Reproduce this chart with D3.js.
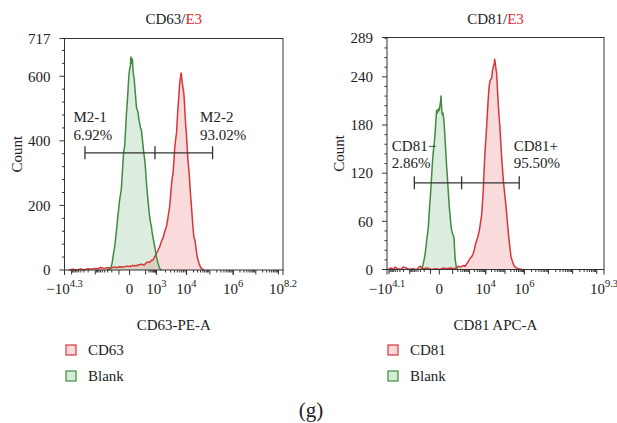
<!DOCTYPE html>
<html>
<head>
<meta charset="utf-8">
<script src="https://cdn.jsdelivr.net/npm/d3@7"></script>
<style>
  html, body { margin: 0; padding: 0; background: #fff; }
  svg { display: block; }
  text { font-family: "Liberation Serif", "DejaVu Serif", serif; fill: #222; }
</style>
</head>
<body>
<svg id="chart" width="617" height="423"></svg>
<script>
// ---------------- DATA (x in display channels 0..1024, y = count) ----------------
const cd63Blank = [[200,0],[208,1],[214,3],[219,10],[224,25],[229,48],[235,72],[240,100],[245,132],[250,166],[254,190],[258,215],[262,232],[266,249],[270,290],[274,335],[278,370],[282,383],[286,430],[290,480],[294,520],[297,549],[300,585],[303,610],[306,625],[309,632],[311,660],[313,640],[315,655],[318,653],[321,620],[324,600],[327,590],[329,570],[333,540],[337,505],[340,497],[344,490],[348,470],[352,455],[356,440],[360,435],[364,410],[368,385],[372,360],[376,342],[380,310],[384,270],[388,240],[391,218],[395,190],[399,165],[403,148],[407,135],[411,115],[415,100],[419,85],[423,72],[427,55],[431,40],[435,30],[438,21],[442,12],[446,6],[450,2],[455,0]];
const cd63Pos = [[20,0],[40,2],[60,0],[75,3],[90,0],[110,4],[125,2],[140,5],[155,3],[170,8],[185,5],[200,7],[215,6],[230,9],[245,8],[260,10],[275,9],[290,12],[305,11],[320,14],[335,13],[350,16],[362,18],[372,15],[382,22],[392,25],[400,24],[408,30],[415,31],[420,38],[426,45],[431,52],[436,58],[441,65],[446,72],[450,80],[454,88],[458,95],[462,99],[466,110],[470,120],[474,128],[478,135],[482,150],[486,168],[490,185],[493,197],[497,228],[501,262],[505,285],[509,301],[513,340],[517,380],[521,405],[525,425],[528,460],[531,495],[535,529],[538,560],[541,585],[544,598],[546,610],[548,606],[550,590],[553,575],[556,560],[559,549],[562,520],[565,480],[568,450],[571,425],[574,390],[577,355],[580,330],[584,301],[587,270],[591,230],[595,197],[599,160],[603,125],[607,100],[611,93],[615,75],[619,55],[622,40],[626,31],[630,22],[634,14],[638,8],[642,5],[648,2],[655,0]];
const cd81Blank = [[160,0],[165,2],[170,6],[175,12],[180,20],[184,28],[188,38],[192,46],[195,53],[199,70],[203,86],[207,100],[211,118],[215,136],[219,148],[223,158],[227,169],[230,182],[234,198],[238,195],[242,200],[246,198],[250,204],[253,210],[255,216],[257,205],[259,196],[261,193],[264,195],[267,189],[270,180],[273,168],[277,148],[281,130],[285,115],[289,98],[294,78],[298,66],[302,55],[305,49],[309,45],[313,42],[316,40],[319,25],[322,12],[326,5],[330,1],[334,0]];
const cd81Pos = [[5,0],[20,2],[30,0],[38,3],[50,1],[65,0],[77,3],[90,2],[105,0],[120,1],[140,0],[156,4],[170,1],[190,2],[210,0],[230,1],[250,0],[266,2],[280,1],[300,2],[320,1],[337,4],[348,3],[360,5],[368,4],[376,7],[384,10],[392,14],[400,16],[407,20],[414,27],[419,33],[423,36],[430,42],[436,49],[441,58],[447,69],[451,85],[455,102],[458,122],[462,144],[466,160],[470,177],[474,196],[478,214],[482,228],[486,235],[490,237],[494,238],[498,248],[502,253],[506,256],[508,262],[510,259],[513,252],[517,245],[521,225],[525,206],[529,190],[533,177],[537,158],[541,140],[545,125],[549,111],[555,95],[562,78],[567,62],[573,45],[578,32],[585,16],[592,10],[599,5],[610,2],[620,1],[636,0]];

const cd63XTicks = [0, 305, 430.7, 571.6, 790.5, 1024];
const cd63XLabels = [["−10","4.3"],["0",""],["10","3"],["10","4"],["10","6"],["10","8.2"]];
const cd63YTicks = [0, 200, 400, 600, 717];
const cd63YMax = 717;
const cd63Gate = [96, 424, 694];
const cd63GateCount = 363;
const cd63GateLabels = [["M2-1","6.92%"],["M2-2","93.02%"]];
const cd63Legend = ["CD63", "Blank"];

const cd81XTicks = [0, 247, 465.8, 647.9, 1024];
const cd81XLabels = [["−10","4.1"],["0",""],["10","4"],["10","6"],["10","9.3"]];
const cd81YTicks = [0, 60, 120, 180, 240, 289];
const cd81YMax = 289;
const cd81Gate = [129, 352, 624];
const cd81GateCount = 108;
const cd81GateLabels = [["CD81−","2.86%"],["CD81+","95.50%"]];
const cd81Legend = ["CD81", "Blank"];

// ---------------- DRAWING ----------------
const svg = d3.select("#chart");
svg.append("rect").attr("width",617).attr("height",423).attr("fill","#fff");

const RED = "#d8353a", RED_FILL = "rgba(236,110,115,0.25)";
const GRN = "#3f8b40", GRN_FILL = "rgba(95,170,105,0.22)";
const AX = "#333";

function minorTicks(posExp, posCh, negExp, negCh) {
  const out = [];
  const pos = d3.scaleLinear().domain(posExp).range(posCh);
  const lo = posExp[0], hi = posExp[posExp.length-1];
  for (let k = Math.floor(lo); k <= Math.ceil(hi); k++) {
    for (let m = 1; m <= 9; m++) {
      const e = k + Math.log10(m);
      if (e >= lo - 1e-9 && e <= hi + 1e-9) out.push({ch: pos(e), major: m === 1});
    }
  }
  const neg = d3.scaleLinear().domain(negExp).range(negCh);
  const nlo = Math.min(...negExp), nhi = Math.max(...negExp);
  for (let k = Math.floor(nlo); k <= Math.ceil(nhi); k++) {
    for (let m = 1; m <= 9; m++) {
      const e = k + Math.log10(m);
      if (e >= nlo - 1e-9 && e <= nhi + 1e-9) out.push({ch: neg(e), major: m === 1});
    }
  }
  return out;
}

function drawPanel(cfg) {
  const g = svg.append("g");
  const x = d3.scaleLinear().domain([0, 1024]).range([cfg.left, cfg.right]);
  const y = d3.scaleLinear().domain([0, cfg.yMax]).range([cfg.bottom, cfg.top]);
  const cx = (cfg.left + cfg.right) / 2;

  // Title
  const t = g.append("text").attr("x", cx).attr("y", 24).attr("text-anchor","middle").attr("font-size",15);
  t.append("tspan").text(cfg.title + "/");
  t.append("tspan").attr("fill","#e5262b").style("fill","#e5262b").text("E3");

  // histograms
  const area = d3.area().x(d => x(d[0])).y0(y(0)).y1(d => y(d[1]));
  const line = d3.line().x(d => x(d[0])).y(d => y(d[1]));
  g.append("path").datum(cfg.pos).attr("d", area).attr("fill", RED_FILL);
  g.append("path").datum(cfg.blank).attr("d", area).attr("fill", GRN_FILL);
  g.append("path").datum(cfg.pos).attr("d", line).attr("fill","none").attr("stroke",RED).attr("stroke-width",1.5).attr("stroke-linejoin","round");
  g.append("path").datum(cfg.blank).attr("d", line).attr("fill","none").attr("stroke",GRN).attr("stroke-width",1.5).attr("stroke-linejoin","round");

  // frame
  g.append("rect").attr("x", cfg.left).attr("y", cfg.top)
    .attr("width", cfg.right - cfg.left).attr("height", cfg.bottom - cfg.top)
    .attr("fill","none").attr("stroke", AX).attr("stroke-width",1);

  // Y axis
  const yMinor = d3.range(cfg.yMinorStep, cfg.yMax, cfg.yMinorStep).filter(v => !cfg.yTicks.includes(v));
  g.selectAll(".ymin").data(yMinor).enter().append("line")
    .attr("x1", cfg.left - 2.5).attr("x2", cfg.left).attr("y1", d => y(d)).attr("y2", d => y(d))
    .attr("stroke", AX).attr("stroke-width",1);
  g.selectAll(".ymaj").data(cfg.yTicks).enter().append("line")
    .attr("x1", cfg.left - 5).attr("x2", cfg.left).attr("y1", d => y(d)).attr("y2", d => y(d))
    .attr("stroke", AX).attr("stroke-width",1);
  g.selectAll(".ylab").data(cfg.yTicks).enter().append("text")
    .attr("x", cfg.left - 14).attr("y", d => y(d)).attr("dy","0.35em")
    .attr("text-anchor","end").attr("font-size",15).text(d => d);
  g.append("text").attr("transform", `translate(${cfg.left - 48},${(cfg.top + cfg.bottom)/2}) rotate(-90)`)
    .attr("text-anchor","middle").attr("dy","0.35em").attr("font-size",15).text("Count");

  // X axis
  const mt = minorTicks(cfg.posExp, cfg.posCh, cfg.negExp, cfg.negCh);
  g.selectAll(".xmin").data(mt).enter().append("line")
    .attr("x1", d => x(d.ch)).attr("x2", d => x(d.ch))
    .attr("y1", cfg.bottom).attr("y2", d => cfg.bottom + (d.major ? 4.5 : 2.5))
    .attr("stroke", AX).attr("stroke-width",1);
  g.selectAll(".xmaj").data(cfg.xTicks).enter().append("line")
    .attr("x1", d => x(d)).attr("x2", d => x(d))
    .attr("y1", cfg.bottom).attr("y2", cfg.bottom + 5)
    .attr("stroke", AX).attr("stroke-width",1);
  cfg.xTicks.forEach((v, i) => {
    const lab = cfg.xLabels[i];
    const tx = g.append("text").attr("x", x(v)).attr("y", 294).attr("text-anchor","middle").attr("font-size",15);
    tx.append("tspan").text(lab[0]);
    if (lab[1]) tx.append("tspan").attr("font-size",10.5).attr("dy",-7).text(lab[1]);
  });
  g.append("text").attr("x", cx).attr("y", 330).attr("text-anchor","middle").attr("font-size",15).text(cfg.xTitle);

  // Gate
  const gy = y(cfg.gateCount);
  g.append("line").attr("x1", x(cfg.gate[0])).attr("x2", x(cfg.gate[2])).attr("y1", gy).attr("y2", gy)
    .attr("stroke", AX).attr("stroke-width",1.3);
  g.selectAll(".gt").data(cfg.gate).enter().append("line")
    .attr("x1", d => x(d)).attr("x2", d => x(d)).attr("y1", gy - 6.5).attr("y2", gy + 6.5)
    .attr("stroke", AX).attr("stroke-width",1.3);
  cfg.gateLabels.forEach((lab, i) => {
    const lx = x(cfg.gate[i * 2]) + cfg.gateLabelDx[i];
    g.append("text").attr("x", lx).attr("y", gy - cfg.gateGap - 17.5).attr("font-size",15).text(lab[0]);
    g.append("text").attr("x", lx).attr("y", gy - cfg.gateGap).attr("font-size",15).text(lab[1]);
  });

  // Legend
  const colors = [[RED, "#fadada"], [GRN, "#d8ecd9"]];
  cfg.legend.forEach((name, i) => {
    const ly = 345 + i * 26;
    g.append("rect").attr("x", cfg.legendX).attr("y", ly).attr("width", 10).attr("height", 10)
      .attr("fill", colors[i][1]).attr("stroke", colors[i][0]).attr("stroke-width",1.2);
    g.append("text").attr("x", cfg.legendX + 22).attr("y", ly + 5).attr("dy","0.35em")
      .attr("font-size",15).text(name);
  });
}

drawPanel({
  title: "CD63", xTitle: "CD63-PE-A",
  left: 64.5, right: 283, top: 38.5, bottom: 270,
  yMax: cd63YMax, yTicks: cd63YTicks, yMinorStep: 40,
  xTicks: cd63XTicks, xLabels: cd63XLabels,
  posExp: [2, 3, 4, 6, 8.2], posCh: [380, 430.7, 571.6, 790.5, 1024],
  negExp: [4.3, 2], negCh: [0, 255],
  pos: cd63Pos, blank: cd63Blank,
  gate: cd63Gate, gateCount: cd63GateCount, gateLabels: cd63GateLabels,
  gateLabelDx: [-11.5, -12.5], gateGap: 13,
  legend: cd63Legend, legendX: 66
});

drawPanel({
  title: "CD81", xTitle: "CD81 APC-A",
  left: 387, right: 604, top: 37.5, bottom: 269.5,
  yMax: cd81YMax, yTicks: cd81YTicks, yMinorStep: 12,
  xTicks: cd81XTicks, xLabels: cd81XLabels,
  posExp: [2, 3, 4, 6, 9.3], posCh: [310, 390, 465.8, 647.9, 1024],
  negExp: [4.1, 2], negCh: [0, 205],
  pos: cd81Pos, blank: cd81Blank,
  gate: cd81Gate, gateCount: cd81GateCount, gateLabels: cd81GateLabels,
  gateLabelDx: [-22.5, -5.5], gateGap: 14.5,
  legend: cd81Legend, legendX: 388
});

svg.append("text").attr("x", 311).attr("y", 417).attr("text-anchor","middle").attr("font-size",21).text("(g)");
</script>
</body>
</html>
